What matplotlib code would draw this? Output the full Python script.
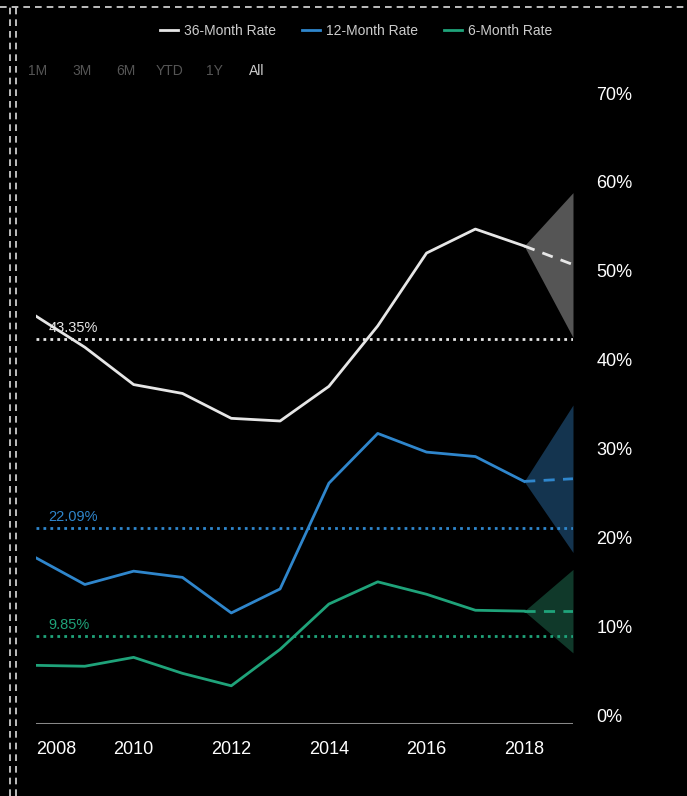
import numpy as np
import matplotlib
matplotlib.use("Agg")
from matplotlib import pyplot as plt
from matplotlib.lines import Line2D
from matplotlib import transforms

plt.rcParams['font.family'] = ['Liberation Sans', 'DejaVu Sans']

years = [2008, 2009, 2010, 2011, 2012, 2013, 2014, 2015, 2016, 2017, 2018]
rate36 = [45.9, 42.4, 38.2, 37.2, 34.4, 34.1, 38.0, 44.8, 53.0, 55.7, 53.8]
rate12 = [18.7, 15.7, 17.2, 16.5, 12.5, 15.2, 27.1, 32.7, 30.6, 30.1, 27.3]
rate6 = [6.6, 6.5, 7.5, 5.7, 4.3, 8.4, 13.5, 16.0, 14.6, 12.8, 12.7]

fc_year = 2019
fc36 = [51.7, 43.5, 59.8]   # forecast, low, high
fc12 = [27.6, 19.3, 35.9]
fc6 = [12.7, 8.0, 17.4]

avg36 = 43.35
avg12 = 22.09
avg6 = 9.85

names = ["36-Month Rate", "12-Month Rate", "6-Month Rate"]
colors = ["#e6e6e6", "#2f86cc", "#1fa37a"]
fills = ["#555555", "#14344f", "#10392a"]

W, H = 687, 796
fig = plt.figure(figsize=(W / 100, H / 100), dpi=100, facecolor="black")
ax = fig.add_axes([36 / W, 1 - 724 / H, (573 - 36) / W, (724 - 102) / H])
ax.set_facecolor("black")

series = [rate36, rate12, rate6]
fcs = [fc36, fc12, fc6]
avgs = [avg36, avg12, avg6]
for s, f, a, c, fc, nm in zip(series, fcs, avgs, colors, fills, names):
    ax.fill_between([years[-1], fc_year], [s[-1], f[1]], [s[-1], f[2]],
                    color=fc, lw=0, zorder=1)
    ax.plot(years, s, color=c, lw=2, zorder=3, label=nm)
    ax.plot([years[-1], fc_year], [s[-1], f[0]], color=c, lw=2,
            dashes=(4, 3), zorder=3)
    ax.plot([years[0], fc_year], [a, a], color=c, lw=2, ls=(0, (1, 1.5)), zorder=2)
    ax.annotate(f"{a:.2f}%", xy=(years[0], a), xytext=(9, 3),
                textcoords="offset points", color=c, fontsize=10.5, va="bottom")

ax.set_xlim(2008, 2019)
ax.set_ylim(0, 70)
for sp in ax.spines.values():
    sp.set_visible(False)
ax.axhline(0, color="#888888", lw=2.2, zorder=2)

ax.set_xticks([2008, 2010, 2012, 2014, 2016, 2018])
ax.set_xticklabels(["2008", "2010", "2012", "2014", "2016", "2018"])
ax.tick_params(axis="x", length=0, pad=12, colors="white", labelsize=13)
xl = ax.get_xticklabels()
xl[0].set_horizontalalignment("left")

ax.yaxis.tick_right()
ax.set_yticks(range(0, 80, 10))
ax.set_yticklabels([f"{v}%" for v in range(0, 80, 10)])
ax.tick_params(axis="y", length=0, pad=17, colors="white", labelsize=13)
off = transforms.ScaledTranslation(0, 9 / 100, fig.dpi_scale_trans)
for lb in ax.get_yticklabels():
    lb.set_transform(lb.get_transform() + off)

fig.legend(loc="center", bbox_to_anchor=(356 / W, 1 - 31 / H), ncol=3,
           frameon=False, labelcolor="#cccccc", fontsize=10, handlelength=1.3,
           columnspacing=1.9, handletextpad=0.4)

buttons = ["1M", "3M", "6M", "YTD", "1Y", "All"]
bx = [28, 72, 116, 156, 206, 249]
for b, x in zip(buttons, bx):
    fig.text(x / W, 1 - 71 / H, b, color="#cccccc" if b == "All" else "#555555",
             fontsize=10, va="center")

# dashed frame
fig.add_artist(Line2D([0, 1], [1 - 7 / H] * 2, transform=fig.transFigure,
                      color="#dddddd", lw=1.2, dashes=(4, 3)))
for x in (10, 16):
    fig.add_artist(Line2D([x / W] * 2, [0, 1 - 7 / H], transform=fig.transFigure,
                          color="#dddddd", lw=1.2, dashes=(4, 3)))

fig.savefig("out.png", dpi=100, facecolor="black")
